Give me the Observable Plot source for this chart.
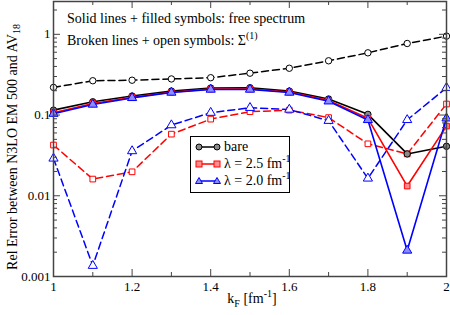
<!DOCTYPE html>
<html><head><meta charset="utf-8">
<script src="https://cdn.jsdelivr.net/npm/d3@7"></script>
<script src="https://cdn.jsdelivr.net/npm/@observablehq/plot@0.6"></script>
<style>
body{margin:0;background:#fff;}
#wrap{position:relative;width:450px;height:315px;font-family:"Liberation Serif","Times New Roman",serif;color:#000;overflow:hidden;}
#wrap > svg{position:absolute;left:0;top:0;}
.note{position:absolute;left:67px;font-size:14px;white-space:nowrap;line-height:14px;}
.note sup{font-size:10px;vertical-align:6px;line-height:0;}
#ylab{position:absolute;left:13px;top:147px;transform:translate(-50%,-50%) rotate(-90deg);font-size:14px;white-space:nowrap;}
#ylab sub{font-size:10px;vertical-align:-3px;line-height:0;}
#xlab{position:absolute;left:252px;top:292px;transform:translateX(-50%);font-size:14px;white-space:nowrap;line-height:14px;}
#xlab sub{font-size:10px;vertical-align:-4px;line-height:0;}
#xlab sup{font-size:10px;vertical-align:6px;line-height:0;}
#legend{position:absolute;left:190px;top:136px;width:100px;height:57px;border:1px solid #000;background:#fff;box-sizing:border-box;}
.lrow{position:absolute;left:4px;height:16px;display:flex;align-items:center;font-size:14px;white-space:nowrap;}
.lrow svg{margin-right:3px;}
.lrow sup{font-size:10px;vertical-align:6px;line-height:0;}
</style></head><body><div id="wrap"></div>
<script>
// ---- data ----
const kF = [1.0, 1.1, 1.2, 1.3, 1.4, 1.5, 1.6, 1.7, 1.8, 1.9, 2.0];
const bareFree   = [0.115, 0.146, 0.172, 0.198, 0.216, 0.218, 0.198, 0.158, 0.102, 0.033, 0.041];
const bareSigma  = [0.22, 0.266, 0.27, 0.28, 0.29, 0.33, 0.38, 0.47, 0.59, 0.77, 0.95];
const lam25Free  = [0.107, 0.139, 0.166, 0.192, 0.21, 0.21, 0.193, 0.152, 0.091, 0.0132, 0.073];
const lam25Sigma = [0.0425, 0.0161, 0.0198, 0.058, 0.089, 0.11, 0.115, 0.093, 0.044, 0.033, 0.137];
const lam20Free  = [0.104, 0.135, 0.163, 0.19, 0.207, 0.207, 0.19, 0.148, 0.087, 0.0021, 0.091];
const lam20Sigma = [0.029, 0.00136, 0.0358, 0.075, 0.107, 0.123, 0.117, 0.085, 0.0164, 0.087, 0.218];
const seriesNames = ["bare", "λ = 2.5 fm", "λ = 2.0 fm"];
const xTicks = [1, 1.2, 1.4, 1.6, 1.8, 2];
const xTickLabels = ["1", "1.2", "1.4", "1.6", "1.8", "2"];
const xMinor = [1.1, 1.3, 1.5, 1.7, 1.9];
const yTicks = [0.001, 0.01, 0.1, 1];
const yTickLabels = ["0.001", "0.01", "0.1", "1"];
const yDomain = [0.001, 2.55];
const xDomain = [1, 2];

// ---- layout / style ----
const W = 450, H = 315, mL = 53, mR = 4, mT = 1, mB = 39;
const plotW = W - mL - mR, plotH = H - mT - mB;
const axisColor = "#444";
const yMinor = [];
for (let e = -3; e <= 0; e++) for (let m = 2; m <= 9; m++) {
  const v = m * Math.pow(10, e);
  if (v < yDomain[1]) yMinor.push(v);
}

const styles = [
  {name: seriesNames[0], free: bareFree, sigma: bareSigma, color: "#000000", fill: "#8a8a8a", symbol: "circle", r: 3.2},
  {name: seriesNames[1], free: lam25Free, sigma: lam25Sigma, color: "#ff0000", fill: "#ff8c8c", symbol: "square", r: 3.2},
  {name: seriesNames[2], free: lam20Free, sigma: lam20Sigma, color: "#0000ff", fill: "#8c8cff", symbol: "triangle", r: 3.4}
];

const marks = [];
for (const s of styles) {
  const rows = kF.map((x, i) => ({x, y: s.sigma[i]}));
  marks.push(Plot.line(rows, {x: "x", y: "y", stroke: s.color, strokeWidth: 1.5, strokeDasharray: "7,4"}));
}
for (const s of styles) {
  const rows = kF.map((x, i) => ({x, y: s.sigma[i]}));
  marks.push(Plot.dot(rows, {x: "x", y: "y", symbol: () => s.symbol, r: s.r, fill: "#fff", stroke: s.color, strokeWidth: 1}));
}
for (const s of styles) {
  const rows = kF.map((x, i) => ({x, y: s.free[i]}));
  marks.push(Plot.line(rows, {x: "x", y: "y", stroke: s.color, strokeWidth: 1.6}));
  marks.push(Plot.dot(rows, {x: "x", y: "y", symbol: () => s.symbol, r: s.r, fill: s.fill, stroke: s.color, strokeWidth: 1}));
}

marks.push(
  Plot.ruleX(xTicks, {x: d => d, insetTop: plotH - 7, stroke: axisColor}),
  Plot.ruleX(xTicks, {x: d => d, insetBottom: plotH - 7, stroke: axisColor}),
  Plot.ruleX(xMinor, {x: d => d, insetTop: plotH - 4, stroke: axisColor}),
  Plot.ruleX(xMinor, {x: d => d, insetBottom: plotH - 4, stroke: axisColor}),
  Plot.ruleY(yTicks, {y: d => d, insetRight: plotW - 7, stroke: axisColor}),
  Plot.ruleY(yTicks, {y: d => d, insetLeft: plotW - 7, stroke: axisColor}),
  Plot.ruleY(yMinor, {y: d => d, insetRight: plotW - 4, stroke: axisColor}),
  Plot.ruleY(yMinor, {y: d => d, insetLeft: plotW - 4, stroke: axisColor}),
  Plot.text(xTicks, {x: d => d, text: (d, i) => xTickLabels[i], frameAnchor: "bottom", lineAnchor: "top", dy: 5, fontSize: 13, fill: "#000"}),
  Plot.text(yTicks, {y: d => d, text: (d, i) => yTickLabels[i], frameAnchor: "left", textAnchor: "end", dx: -3, fontSize: 13, fill: "#000"}),
  Plot.frame({stroke: axisColor, strokeWidth: 1.5})
);

const chart = Plot.plot({
  width: W, height: H,
  marginLeft: mL, marginRight: mR, marginTop: mT, marginBottom: mB,
  style: {fontFamily: '"Liberation Serif","Times New Roman",serif', background: "transparent", color: "#000", overflow: "visible"},
  x: {domain: xDomain, axis: null},
  y: {type: "log", domain: yDomain, axis: null},
  marks
});

const wrap = document.getElementById("wrap");
wrap.appendChild(chart);

const n1 = document.createElement("div");
n1.className = "note"; n1.style.top = "12px";
n1.textContent = "Solid lines + filled symbols: free spectrum";
const n2 = document.createElement("div");
n2.className = "note"; n2.style.top = "34px";
n2.innerHTML = "Broken lines + open symbols: Σ<sup>(1)</sup>";
wrap.appendChild(n1); wrap.appendChild(n2);

const yl = document.createElement("div");
yl.id = "ylab"; yl.innerHTML = "Rel Error between N3LO EM 500 and AV<sub>18</sub>";
wrap.appendChild(yl);
const xl = document.createElement("div");
xl.id = "xlab"; xl.innerHTML = "k<sub>F</sub> [fm<sup>-1</sup>]";
wrap.appendChild(xl);

const leg = document.createElement("div");
leg.id = "legend";
const symSvg = (s) => {
  let shape;
  if (s.symbol === "circle") shape = (cx) => `<circle cx="${cx}" cy="5" r="3" fill="${s.fill}" stroke="${s.color}"/>`;
  else if (s.symbol === "square") shape = (cx) => `<rect x="${cx-3}" y="2" width="6" height="6" fill="${s.fill}" stroke="${s.color}"/>`;
  else shape = (cx) => `<path d="M${cx},1.5L${cx+3.5},7.5L${cx-3.5},7.5Z" fill="${s.fill}" stroke="${s.color}"/>`;
  return `<svg width="26" height="10"><line x1="4" y1="5" x2="22" y2="5" stroke="${s.color}" stroke-width="1.5"/>${shape(4)}${shape(22)}</svg>`;
};
styles.forEach((s, i) => {
  const r = document.createElement("div");
  r.className = "lrow";
  r.style.top = (2 + i * 17) + "px";
  r.innerHTML = symSvg(s) + "<span>" + s.name + (i > 0 ? "<sup>-1</sup>" : "") + "</span>";
  leg.appendChild(r);
});
wrap.appendChild(leg);
</script>
</body></html>
